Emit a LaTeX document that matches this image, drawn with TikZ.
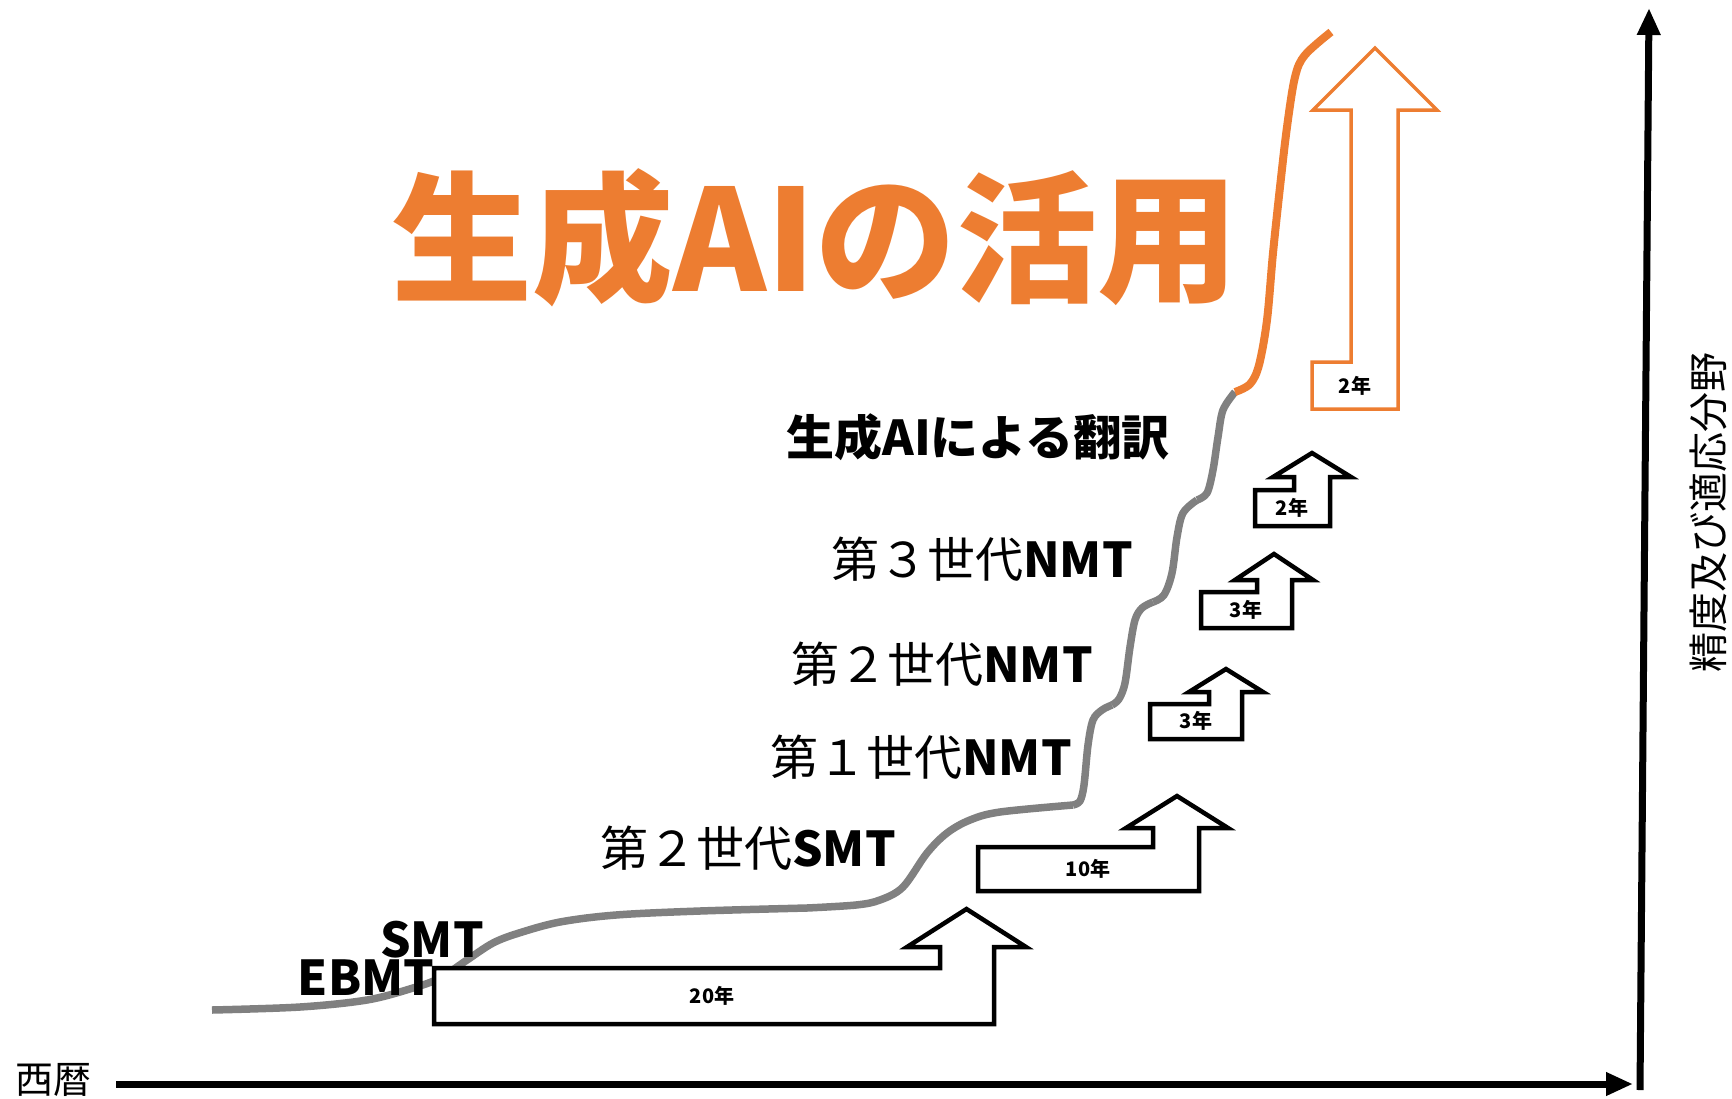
\documentclass[tikz,border=0pt]{standalone}
\usepackage{fontspec}
\setmainfont{Noto Sans CJK JP}
\usetikzlibrary{arrows.meta}
\definecolor{aiorange}{HTML}{ED7D31}
\definecolor{curvegray}{HTML}{808080}
\tikzset{
  stepbox/.style={draw=black, line width=4.5pt, fill=white},
  stepboxorange/.style={draw=aiorange, line width=3.5pt, fill=white},
  yearlabel/.style={font=\bfseries\fontsize{20}{20}\selectfont, inner sep=0pt},
  gencurve/.style={draw=curvegray, line width=7.5pt},
  aicurve/.style={draw=aiorange, line width=8pt},
  genlabel/.style={font=\fontsize{48}{48}\selectfont, inner sep=0pt, anchor=east},
  boldlabel/.style={font=\bfseries\fontsize{48}{48}\selectfont, inner sep=0pt},
  axisline/.style={line width=7pt, -{Triangle[length=27pt,width=22pt]}},
}
\begin{document}
\begin{tikzpicture}[x=1pt,y=-1pt]
\useasboundingbox (0,0) rectangle (1732,1098);

% growth curve
\draw[gencurve] plot[smooth,tension=0.55] coordinates {(212,1010) (300,1007) (367,1000) (413,988) (440,978) (467,960) (493,943) (519,933) (560,922) (616,915) (700,911) (807,908)};
\draw[gencurve] plot[smooth,tension=0.55] coordinates {(807,908) (856,905) (880,900) (903,887) (927,853) (947,833) (970,820) (1000,812) (1073,805)};
\draw[gencurve] plot[smooth,tension=0.55] coordinates {(1073,805) (1080,801) (1084,785) (1088,745) (1093,720) (1102,710) (1112,705)};
\draw[gencurve] plot[smooth,tension=0.55] coordinates {(1112,705) (1119,699) (1125,683) (1130,647) (1135,620) (1142,608) (1153,602)};
\draw[gencurve] plot[smooth,tension=0.55] coordinates {(1153,602) (1164,595) (1172,573) (1177,537) (1183,513) (1197,500)};
\draw[gencurve] plot[smooth,tension=0.55] coordinates {(1197,500) (1207,493) (1213,470) (1218,437) (1223,410) (1235,392)};
\draw[aicurve] plot[smooth,tension=0.55] coordinates {(1235,392) (1250,384) (1259,365) (1267,320) (1273,253) (1280,187) (1287,127) (1295,77) (1305,55) (1331,32)};

% step arrows
\draw[stepbox] (434,968) -- (940,968) -- (940,947) -- (907,947) -- (966.5,909) -- (1026,947) -- (994,947) -- (994,1024) -- (434,1024) -- cycle;
\node[yearlabel] (y20) at (712,996) {20年};
\draw[stepbox] (978,847) -- (1153,847) -- (1153,828) -- (1126,828) -- (1177,796) -- (1228,828) -- (1199,828) -- (1199,891) -- (978,891) -- cycle;
\node[yearlabel] (y10) at (1088,869) {10年};
\draw[stepbox] (1150,704) -- (1209,704) -- (1209,692) -- (1189,692) -- (1226,669) -- (1263,692) -- (1242,692) -- (1242,739) -- (1150,739) -- cycle;
\node[yearlabel] (y3a) at (1196,721) {3年};
\draw[stepbox] (1201,592) -- (1257,592) -- (1257,580) -- (1235,580) -- (1274,554) -- (1313,580) -- (1292,580) -- (1292,628) -- (1201,628) -- cycle;
\node[yearlabel] (y3b) at (1246,610) {3年};
\draw[stepbox] (1255,490) -- (1294,490) -- (1294,477) -- (1273,477) -- (1312,453) -- (1351,477) -- (1330,477) -- (1330,526) -- (1255,526) -- cycle;
\node[yearlabel] (y2a) at (1292,508) {2年};
\draw[stepboxorange] (1312,362) -- (1351,362) -- (1351,110) -- (1313,110) -- (1375,48) -- (1437,110) -- (1398,110) -- (1398,409) -- (1312,409) -- cycle;
\node[yearlabel] (y2b) at (1355,386) {2年};

% labels
\node[font=\bfseries\fontsize{141}{141}\selectfont, text=aiorange, inner sep=0pt] (title) at (815,238) {生成AIの活用};
\node[boldlabel] (genai) at (978,437) {生成AIによる翻訳};
\node[genlabel] (nmt3) at (1133,559) {第３世代\textbf{NMT}};
\node[genlabel] (nmt2) at (1093,664) {第２世代\textbf{NMT}};
\node[genlabel] (nmt1) at (1072,757) {第１世代\textbf{NMT}};
\node[genlabel] (smt2) at (896,848) {第２世代\textbf{SMT}};
\node[boldlabel] (smt) at (432,940) {SMT};
\node[boldlabel] (ebmt) at (366,978) {EBMT};

% axes
\coordinate (xorig) at (116,1084);
\coordinate (xend) at (1633,1084);
\coordinate (yorig) at (1640,1090);
\coordinate (yend) at (1649,8);
\draw[axisline] (xorig) -- (xend);
\draw[axisline] (yorig) -- (yend);
\node[font=\fontsize{38}{38}\selectfont, inner sep=0pt] (xlabel) at (54,1080) {西暦};
\node[font=\fontsize{40}{40}\selectfont, inner sep=0pt, rotate=90] (ylabel) at (1708,512) {精度及び適応分野};
\end{tikzpicture}
\end{document}
